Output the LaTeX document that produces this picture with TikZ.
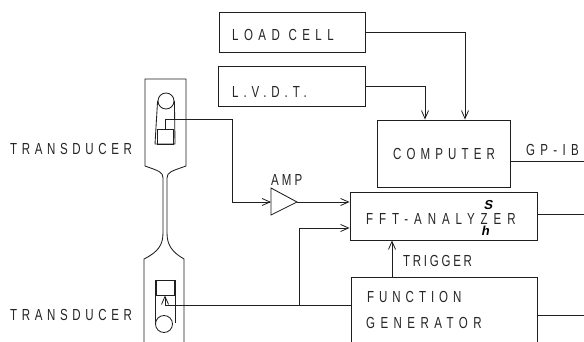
\documentclass[tikz,border=0pt]{standalone}
\usepackage{fontspec}
\setmainfont{Liberation Sans}[FakeStretch=0.72]
\usetikzlibrary{arrows.meta,calc}
\newfontfamily\handfont{Liberation Sans}[Scale=1,FakeSlant=0.2]
\newcommand{\lsp}[2]{{\addfontfeatures{LetterSpace=#1}#2}}
\tikzset{
  ln/.style={draw=black!88,line width=0.85pt,line join=miter},
  barb/.style={ln,-{Straight Barb[length=8pt,width=7pt,line width=0.8pt]}},
  blk/.style={ln,rectangle,inner sep=0pt,fill=none},
  txt/.style={anchor=west,inner sep=0pt,text=black!85,font=\fontsize{16}{16}\selectfont},
}
\begin{document}
\begin{tikzpicture}[x=1pt,y=-1pt]
\useasboundingbox (0,0) rectangle (584,342);
\clip (0,0) rectangle (584,342);
\fill[white] (0,0) rectangle (584,342);
% blocks
\node[blk,minimum width=146pt,minimum height=40pt] (load) at (292,32) {};
\node[blk,minimum width=147pt,minimum height=40pt] (lvdt) at (291.5,86.5) {};
\node[blk,minimum width=133pt,minimum height=67pt] (comp) at (443.5,153.5) {};
\node[blk,minimum width=187pt,minimum height=48pt] (fft) at (443.5,216) {};
\node[blk,minimum width=186pt,minimum height=100pt] (gen) at (444,327) {};
% amplifier
\coordinate (ampin) at (271,202);
\coordinate (ampout) at (297,202);
\draw[ln] (271,188) -- (ampout) -- (271,215) -- cycle;
% specimen outline
\draw[ln] (163,233) -- (163,178) .. controls (163,172) and (159,171) .. (145,166) -- (145,79) -- (186,79) -- (186,166)
  .. controls (172,171) and (167,172) .. (167,178) -- (167,233);
\draw[ln] (163,233) .. controls (163,245) and (158,252) .. (144,259) -- (144,345);
\draw[ln] (167,233) .. controls (167,245) and (172,252) .. (184,259) -- (184,345);
% upper pulley and transducer
\node[ln,circle,inner sep=0pt,minimum size=16pt,fill=white] (pu) at (166,101) {};
\draw[ln] (pu.west) -- (155,144) -- (175,144) -- (pu.east);
\node[ln,rectangle,inner sep=0pt,minimum width=16pt,minimum height=15pt] (tu) at (165,136.5) {};
% lower pulley and transducer
\draw[ln] (155,323) -- (155,280) -- (175,280) -- (175,323);
\node[ln,circle,inner sep=0pt,minimum size=17pt,fill=white] (pl) at (164,324) {};
\node[ln,rectangle,inner sep=0pt,minimum width=18pt,minimum height=15pt] (tl) at (165,287.5) {};
% connectors
\draw[barb] (load.east) -| ([xshift=21.5pt]comp.north);
\draw[barb] (lvdt.east) -| ([xshift=-18.5pt]comp.north);
\draw[barb] (tu.north) |- (232,119) |- (ampin);
\draw[barb] (ampout) -- (ampout -| fft.west);
\draw[ln] (gen.west |- 0,305) -- (165,305);
\draw[barb] (165,305) -- (tl.south);
\coordinate (jn) at (299,305);
\draw[barb] (jn) |- (fft.west |- 0,228);
\draw[barb] (gen.north -| 392,0) -- (fft.south -| 392,0);
\coordinate (e1) at (590,161);
\coordinate (e2) at (590,214);
\coordinate (e3) at (590,315);
\draw[ln] (comp.east |- e1) -- (e1);
\draw[ln] (fft.east |- e2) -- (e2);
\draw[ln] (gen.east |- e3) -- (e3);
% labels
\node[txt] (t1) at (10,149) {\lsp{29}{TRANSDUCER}};
\node[txt] (t2) at (10,315) {\lsp{29}{TRANSDUCER}};
\node[txt] (t3) at (232,35) {\lsp{34}{LOAD CELL}};
\node[txt] (t4) at (232,92) {\lsp{31}{L.V.D.T.}};
\node[txt] (t5) at (393,154) {\lsp{32}{COMPUTER}};
\node[txt] (t6) at (526,150) {\lsp{33}{GP-IB}};
\node[txt] (t7) at (366,219) {\lsp{37}{FFT-ANALYZER}};
\node[txt] (t8) at (271,180) {\lsp{19}{AMP}};
\node[txt] (t9) at (403,261) {\lsp{17}{TRIGGER}};
\node[txt] (t10) at (367,297) {\lsp{31}{FUNCTION}};
\node[txt] (t11) at (366,323) {\lsp{34}{GENERATOR}};
\node[inner sep=0pt,font=\handfont\bfseries\fontsize{13}{13}\selectfont] (s) at (488,205) {S};
\node[inner sep=0pt,font=\handfont\bfseries\fontsize{13}{13}\selectfont] (h) at (485,231) {h};
\end{tikzpicture}
\end{document}
